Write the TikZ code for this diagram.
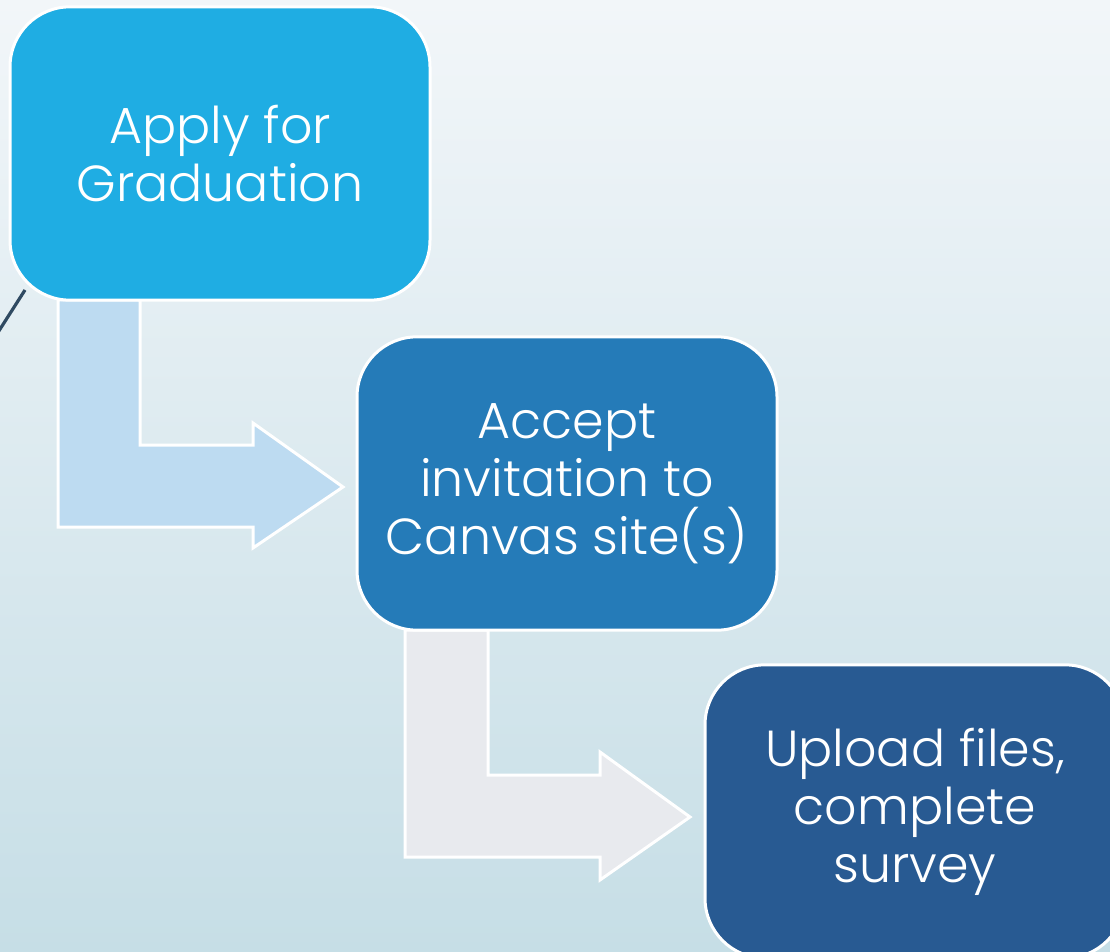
\documentclass[tikz,border=0pt]{standalone}
\usepackage{fontspec}
\setmainfont{Poppins Light}
\definecolor{bgtop}{HTML}{F2F6F9}
\definecolor{bgbot}{HTML}{C6DEE6}
\definecolor{cone}{HTML}{1FADE3}
\definecolor{ctwo}{HTML}{257BB8}
\definecolor{cthree}{HTML}{285A92}
\definecolor{aone}{HTML}{BDDBF1}
\definecolor{atwo}{HTML}{E8EAEE}
\definecolor{deco}{HTML}{2F4A62}
\tikzset{
  stepbox/.style={draw=white, line width=2.25pt, rounded corners=45pt,
    minimum width=315pt, minimum height=220pt, inner sep=0pt,
    text=white, align=center, font=\fontsize{38}{43.5}\selectfont},
  bentarrow/.style={draw=white, line width=2.25pt, line join=miter},
  decoline/.style={draw=deco, line width=2.4pt}
}
\begin{document}
\begin{tikzpicture}[x=0.75pt,y=-0.75pt]
\useasboundingbox (0,0) rectangle (1110,952);
\clip (0,0) rectangle (1110,952);
\shade[top color=bgtop, bottom color=bgbot] (0,0) rectangle (1110,952);
% bent arrows
\filldraw[bentarrow, fill=aone] (58,300) -- (140,300) -- (140,445) -- (253,445) -- (253,423) -- (343,487) -- (253,548) -- (253,527) -- (58,527) -- cycle;
\filldraw[bentarrow, fill=atwo] (405,630) -- (488,630) -- (488,775) -- (600,775) -- (600,752) -- (690,817) -- (600,880) -- (600,857) -- (405,857) -- cycle;
% boxes
\node[stepbox, fill=cone] (s1) at (220,153.5) {Apply for\\Graduation};
\node[stepbox, fill=ctwo] (s2) at (567,483.5) {Accept\\invitation to\\Canvas site(s)};
\node[stepbox, fill=cthree] (s3) at (915,811.5) {Upload files,\\complete\\survey};
% decorative line
\coordinate (d1) at (25,290);
\coordinate (d2) at (-12,348);
\draw[decoline] (d1) -- (d2);
\end{tikzpicture}
\end{document}
